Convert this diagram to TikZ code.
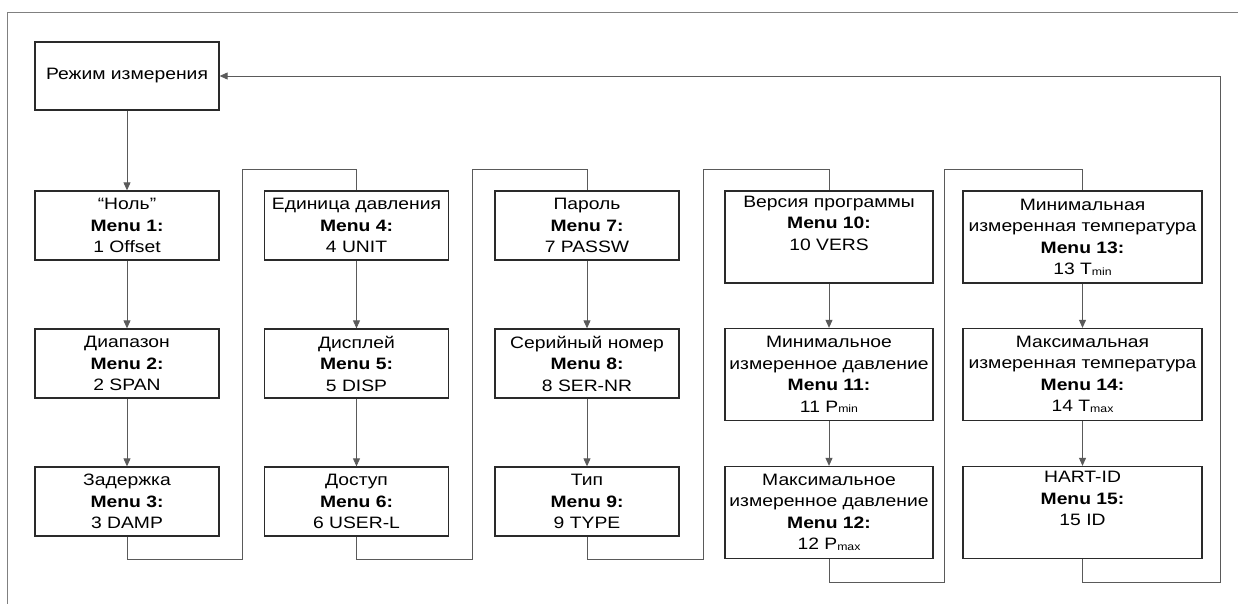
\documentclass[tikz,border=0pt]{standalone}
\usepackage{fontspec}
\setmainfont{Liberation Sans}[FakeStretch=1.17]
\usetikzlibrary{arrows.meta}
\newcommand\fs{\fontsize{16.5}{21.5}\selectfont}
\newcommand\sbs[1]{{\fontsize{10.5}{10.5}\selectfont\raisebox{-0.8pt}{#1}}}
\definecolor{boxc}{HTML}{2A2A2A}
\definecolor{linec}{HTML}{5A5A5A}
\definecolor{framec}{HTML}{808080}
\tikzset{
  box/.style={draw=boxc, line width=1.3pt, inner sep=0pt, align=center, font=\fs, text=black},
  sbox/.style={box, minimum width=184pt, minimum height=69pt},
  wbox/.style={box, minimum height=92pt},
  conn/.style={draw=linec, line width=0.9pt},
  arr/.style={conn, -{Triangle[length=8pt,width=7pt]}},
  frame/.style={draw=framec, line width=1pt}
}
\begin{document}
\begin{tikzpicture}[x=1pt,y=-1pt]
\useasboundingbox (0,0) rectangle (1238,604);
\draw[frame] (1238,13) -- (7,13) -- (7,604);

\node[box, minimum width=184pt, minimum height=68pt] (top) at (127,76) {Режим измерения};

\node[sbox] (n1) at (127,225.5) {“Ноль”\\ \textbf{Menu 1:}\\ 1 Offset};
\node[sbox] (n2) at (127,363.5) {Диапазон\\ \textbf{Menu 2:}\\ 2 SPAN};
\node[sbox] (n3) at (127,501.5) {Задержка\\ \textbf{Menu 3:}\\ 3 DAMP};

\node[sbox] (n4) at (356.5,225.5) {Единица давления\\ \textbf{Menu 4:}\\ 4 UNIT};
\node[sbox] (n5) at (356.5,363.5) {Дисплей\\ \textbf{Menu 5:}\\ 5 DISP};
\node[sbox] (n6) at (356.5,501.5) {Доступ\\ \textbf{Menu 6:}\\ 6 USER-L};

\node[sbox] (n7) at (587,225.5) {Пароль\\ \textbf{Menu 7:}\\ 7 PASSW};
\node[sbox] (n8) at (587,363.5) {Серийный номер\\ \textbf{Menu 8:}\\ 8 SER-NR};
\node[sbox] (n9) at (587,501.5) {Тип\\ \textbf{Menu 9:}\\ 9 TYPE};

\node[wbox, minimum width=208pt] (n10) at (829,237) {Версия программы\\ \textbf{Menu 10:}\\ 10 VERS\\ \strut};
\node[wbox, minimum width=208pt] (n11) at (829,374.5) {Минимальное\\ измеренное давление\\ \textbf{Menu 11:}\\ 11 P\sbs{min}};
\node[wbox, minimum width=208pt] (n12) at (829,512.5) {Максимальное\\ измеренное давление\\ \textbf{Menu 12:}\\ 12 P\sbs{max}};

\node[wbox, minimum width=239pt] (n13) at (1082.5,237) {Минимальная\\ измеренная температура\\ \textbf{Menu 13:}\\ 13 T\sbs{min}};
\node[wbox, minimum width=239pt] (n14) at (1082.5,374.5) {Максимальная\\ измеренная температура\\ \textbf{Menu 14:}\\ 14 T\sbs{max}};
\node[wbox, minimum width=239pt] (n15) at (1082.5,512.5) {HART-ID\\ \textbf{Menu 15:}\\ 15 ID\\ \strut};

\coordinate (b1) at (242,559);  \coordinate (t1) at (242,169);
\coordinate (b2) at (472,559);  \coordinate (t2) at (472,169);
\coordinate (b3) at (703,559);  \coordinate (t3) at (703,169);
\coordinate (b4) at (944,582);  \coordinate (t4) at (944,169);
\coordinate (b5) at (1220,582); \coordinate (t5) at (1220,76);

\draw[arr] (top) -- (n1);
\draw[arr] (n1) -- (n2);
\draw[arr] (n2) -- (n3);
\draw[arr] (n4) -- (n5);
\draw[arr] (n5) -- (n6);
\draw[arr] (n7) -- (n8);
\draw[arr] (n8) -- (n9);
\draw[arr] (n10) -- (n11);
\draw[arr] (n11) -- (n12);
\draw[arr] (n13) -- (n14);
\draw[arr] (n14) -- (n15);

\draw[conn] (n3.south) |- (b1) -- (t1) -| (n4.north);
\draw[conn] (n6.south) |- (b2) -- (t2) -| (n7.north);
\draw[conn] (n9.south) |- (b3) -- (t3) -| (n10.north);
\draw[conn] (n12.south) |- (b4) -- (t4) -| (n13.north);
\draw[arr] (n15.south) |- (b5) -- (t5) -- (top.east);
\end{tikzpicture}
\end{document}
